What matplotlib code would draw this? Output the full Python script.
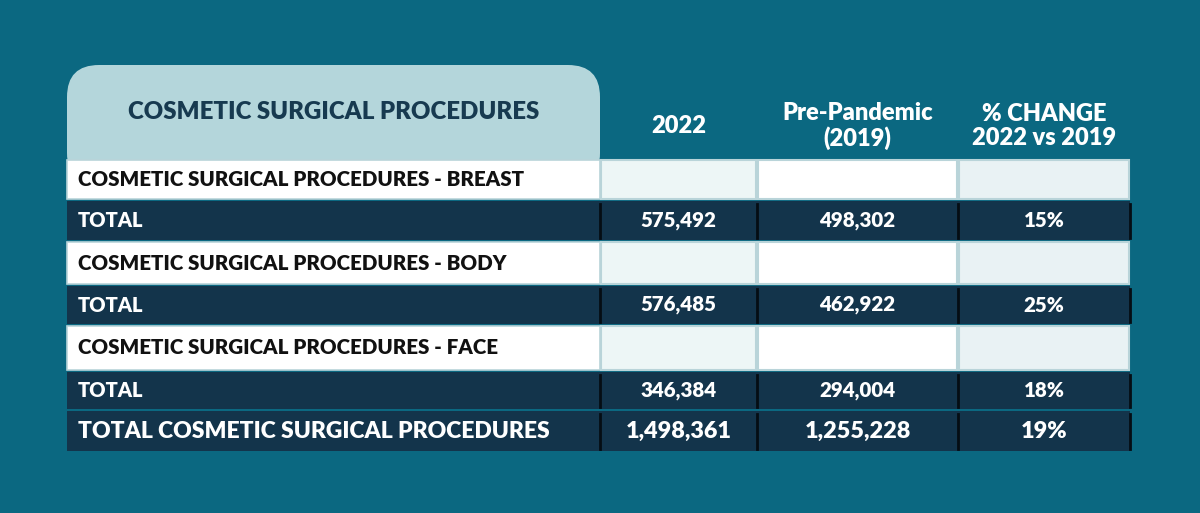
import matplotlib
matplotlib.use("Agg")
import matplotlib.pyplot as plt
from matplotlib.patches import Rectangle, FancyBboxPatch
from matplotlib import font_manager as fm

# ---- data ----
title = "COSMETIC SURGICAL PROCEDURES"
col_headers = ["2022", "Pre-Pandemic\n(2019)", "% CHANGE\n2022 vs 2019"]
row_labels = ["COSMETIC SURGICAL PROCEDURES - BREAST", "TOTAL",
              "COSMETIC SURGICAL PROCEDURES - BODY", "TOTAL",
              "COSMETIC SURGICAL PROCEDURES - FACE", "TOTAL",
              "TOTAL COSMETIC SURGICAL PROCEDURES"]
row_kind = ["section", "total", "section", "total", "section", "total", "grand"]
values_2022 = ["", "575,492", "", "576,485", "", "346,384", "1,498,361"]
values_2019 = ["", "498,302", "", "462,922", "", "294,004", "1,255,228"]
pct_change = ["", "15%", "", "25%", "", "18%", "19%"]

# ---- fonts ----
def find_font(names):
    files = [f.fname for f in fm.fontManager.ttflist]
    for n in names:
        for pref in ("/lato/", "/"):
            for fn in files:
                if pref in fn and fn.endswith("/" + n):
                    return fm.FontProperties(fname=fn)
    return fm.FontProperties(family="Lato", weight="bold")

F_BLACK = find_font(["Lato-Black.ttf", "Lato-Heavy.ttf", "Lato-Bold.ttf"])

def fp(size):
    p = F_BLACK.copy()
    p.set_size(size)
    return p

# ---- style ----
BG = "#0b6881"
DARK = "#13344b"
HEAD = "#b4d6db"
HEAD_TXT = "#173a50"
BORDER = "#b9d4d9"
EMPTY = ["#edf6f6", "#ffffff", "#e9f2f4"]

W, H = 1200, 513
fig = plt.figure(figsize=(W / 100, H / 100), dpi=100)
fig.patch.set_facecolor(BG)
ax = fig.add_axes([0, 0, 1, 1])
ax.set_xlim(0, W)
ax.set_ylim(H, 0)
ax.axis("off")

xs = [67, 600, 757, 958, 1130]
rows_y = [(160, 199), (201, 240), (242, 284), (286, 324), (326, 370), (372, 409), (411, 451)]

# header box with rounded top corners
ax.add_patch(FancyBboxPatch((xs[0], 65), xs[1] - xs[0], 120,
                            boxstyle="round,pad=0,rounding_size=32",
                            facecolor=HEAD, edgecolor="none", zorder=1))
ax.text((xs[0] + xs[1]) / 2, 112, title, ha="center", va="center",
        fontproperties=fp(17.3), color=HEAD_TXT, zorder=5)

for j, h in enumerate(col_headers):
    ax.text((xs[j + 1] + xs[j + 2]) / 2, 126, h, ha="center", va="center",
            fontproperties=fp(17), color="white",
            linespacing=1.1, zorder=5)

for i, (y0, y1) in enumerate(rows_y):
    kind = row_kind[i]
    vals = [values_2022[i], values_2019[i], pct_change[i]]
    yc = (y0 + y1) / 2
    if kind == "section":
        ax.add_patch(Rectangle((xs[0], y0), xs[1] - xs[0], y1 - y0,
                               facecolor="white", edgecolor=BORDER, lw=1.2, zorder=2))
        for j in range(3):
            ax.add_patch(Rectangle((xs[j + 1] + 1, y0), xs[j + 2] - xs[j + 1] - 2, y1 - y0,
                                   facecolor=EMPTY[j], edgecolor=BORDER, lw=1.5, zorder=2))
        ax.text(78, yc, row_labels[i], ha="left", va="center",
                fontproperties=fp(14.75), color="#111111", zorder=5)
    else:
        ax.add_patch(Rectangle((xs[0], y0), xs[-1] - xs[0], y1 - y0,
                               facecolor=DARK, edgecolor="none", zorder=2))
        for xb in xs[1:]:
            ax.plot([xb, xb], [y0 + 3, y1 - 2], color="#050d14", lw=2, zorder=3)
        fs_lab = 16.5 if kind == "grand" else 14.5
        fs_val = 16.8 if kind == "grand" else 14.8
        ax.text(78, yc, row_labels[i], ha="left", va="center",
                fontproperties=fp(fs_lab), color="white", zorder=5)
        for j, v in enumerate(vals):
            ax.text((xs[j + 1] + xs[j + 2]) / 2, yc, v, ha="center", va="center",
                    fontproperties=fp(fs_val), color="white", zorder=5)

fig.savefig("out.png", dpi=100, facecolor=BG)
